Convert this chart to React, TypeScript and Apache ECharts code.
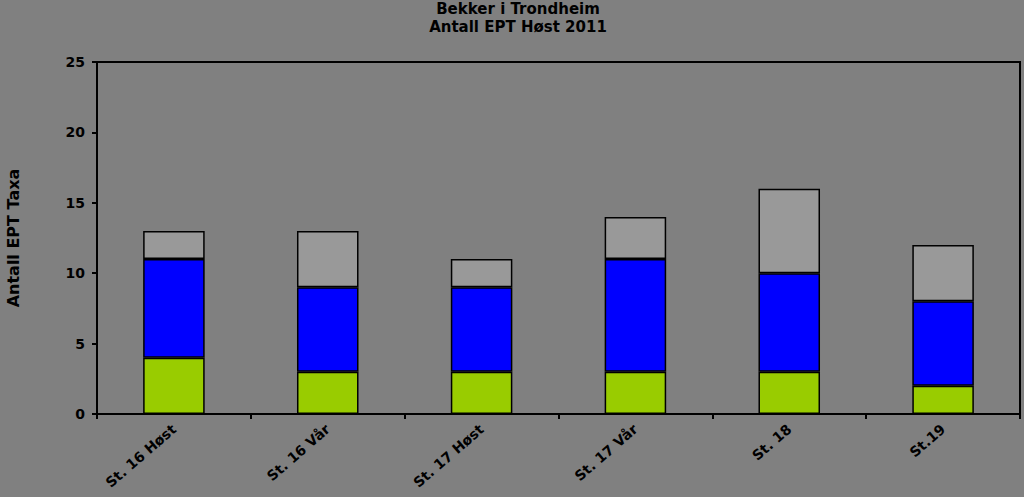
import React, { useEffect, useRef } from "react";
import * as echarts from "echarts";

const categories = ["St. 16 Høst", "St. 16 Vår", "St. 17 Høst", "St. 17 Vår", "St. 18", "St.19"];
const greenValues = [4, 3, 3, 3, 3, 2];
const blueValues = [7, 6, 6, 8, 7, 6];
const greyValues = [2, 4, 2, 3, 6, 4];
const titleLines = ["Bekker i Trondheim", "Antall EPT Høst 2011"];
const yAxisName = "Antall EPT Taxa";

const FONT = "'DejaVu Sans', sans-serif";

export default function App() {
  const ref = useRef<HTMLDivElement>(null);
  useEffect(() => {
    if (!ref.current) return;
    const chart = echarts.init(ref.current, null, { renderer: "svg" });
    const barStyle = (color: string) => ({ color, borderColor: "#000", borderWidth: 1.5 });
    chart.setOption({
      animation: false,
      backgroundColor: "#808080",
      textStyle: { fontFamily: FONT },
      title: {
        text: titleLines.join("\n"),
        left: 518,
        top: 0,
        padding: 0,
        textAlign: "center",
        textStyle: { fontFamily: FONT, fontSize: 15, fontWeight: "bold", color: "#000", lineHeight: 18 },
      },
      grid: {
        left: 97,
        right: 4,
        top: 62,
        bottom: 83,
        containLabel: false,
        outerBoundsMode: "none",
        show: true,
        borderColor: "#000",
        borderWidth: 2,
        backgroundColor: "transparent",
      },
      xAxis: {
        type: "category",
        data: categories,
        boundaryGap: true,
        axisLine: { lineStyle: { color: "#000", width: 2 } },
        axisTick: { show: true, alignWithLabel: false, length: 5, lineStyle: { color: "#000", width: 2 } },
        axisLabel: {
          rotate: 41,
          interval: 0,
          margin: 13,
          color: "#000",
          fontFamily: FONT,
          fontSize: 14,
          fontWeight: "bold",
        },
      },
      yAxis: {
        type: "value",
        min: 0,
        max: 25,
        interval: 5,
        name: yAxisName,
        nameLocation: "middle",
        nameGap: 76,
        nameTextStyle: { fontFamily: FONT, fontSize: 16, fontWeight: "bold", color: "#000" },
        axisLine: { show: true, lineStyle: { color: "#000", width: 2 } },
        axisTick: { show: true, length: 5, lineStyle: { color: "#000", width: 2 } },
        splitLine: { show: false },
        axisLabel: { color: "#000", fontFamily: FONT, fontSize: 14, fontWeight: "bold", margin: 12 },
      },
      series: [
        { type: "bar", stack: "t", data: greenValues, barWidth: "40%", itemStyle: barStyle("#99CC00") },
        { type: "bar", stack: "t", data: blueValues, barWidth: "40%", itemStyle: barStyle("#0000FF") },
        { type: "bar", stack: "t", data: greyValues, barWidth: "40%", itemStyle: barStyle("#999999") },
      ],
    });
    return () => chart.dispose();
  }, []);
  return <div ref={ref} style={{ position: "absolute", left: 0, top: 0, width: 1024, height: 497 }} />;
}
